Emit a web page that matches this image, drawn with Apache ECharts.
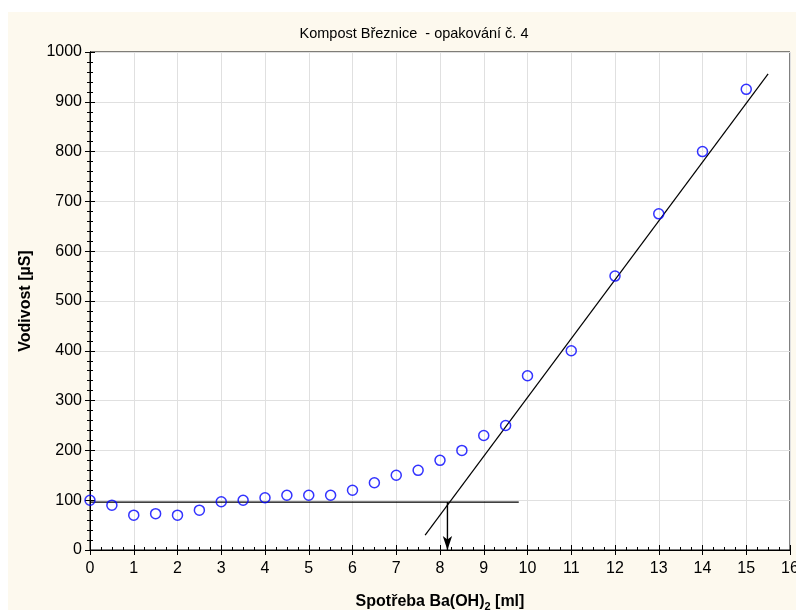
<!DOCTYPE html>
<html><head><meta charset="utf-8">
<script src="https://cdn.jsdelivr.net/npm/echarts@6/dist/echarts.min.js"></script>
<style>html,body{margin:0;padding:0;background:#fff}#c{width:796px;height:610px}</style>
</head><body><div id="c"></div>
<script>
const xVals = [0,0.5,1,1.5,2,2.5,3,3.5,4,4.5,5,5.5,6,6.5,7,7.5,8,8.5,9,9.5,10,11,12,13,14,15];
const yVals = [100,90,70,73,70,80,97,100,105,110,110,110,120,135,150,160,180,200,230,250,350,400,550,675,800,925];
const baseLine = [[0,96],[9.8,96]];
const fitLine = [[7.66,30],[15.5,956]];
const arrowLine = [[8.17,96],[8.17,0]];
const titleText = 'Kompost Březnice  - opakování č. 4';

const chart = echarts.init(document.getElementById('c'));
const font = 'Arial, "Liberation Sans", sans-serif';
const axBase = {
  axisLine:{show:true,lineStyle:{color:'#000',width:1}},
  axisTick:{show:true,inside:true,length:5,lineStyle:{color:'#000'}},
  minorTick:{show:true,length:3,lineStyle:{color:'#000'}},
  splitLine:{show:false}
};
chart.setOption({
  backgroundColor:'#fff',
  animation:false,
  graphic:[{type:'rect',shape:{x:8,y:12,width:788,height:598},style:{fill:'#fdf9ee'},z:-10}],
  title:{text:titleText,left:409,top:21,textAlign:'center',textStyle:{fontFamily:font,fontSize:14.5,fontWeight:'normal',color:'#000'}},
  grid:{left:90,top:52,right:6,bottom:60,show:true,backgroundColor:'#fff',borderColor:'#000',borderWidth:1,outerBoundsMode:'none',containLabel:false},
  xAxis:[
    Object.assign({},axBase,{type:'value',min:0,max:16,interval:1,position:'bottom',
      minorTick:{show:true,splitNumber:4,length:3,lineStyle:{color:'#000'}},
      splitLine:{show:true,lineStyle:{color:'#e0e0e0',width:1}},
      axisLabel:{fontFamily:font,fontSize:16,color:'#000',margin:11,formatter:v=>String(v)},
      name:'Spotřeba Ba(OH){sub|2} [ml]',nameLocation:'middle',nameGap:42,
      nameTextStyle:{fontFamily:font,fontSize:16,fontWeight:'bold',color:'#000',
        rich:{sub:{fontFamily:font,fontSize:11,fontWeight:'bold',color:'#000',verticalAlign:'bottom',padding:[9,0,0,0]}}}}),
    Object.assign({},axBase,{type:'value',min:0,max:16,interval:1,position:'top',
      minorTick:{show:false},axisLabel:{show:false}})
  ],
  yAxis:[
    Object.assign({},axBase,{type:'value',min:0,max:1000,interval:100,position:'left',
      minorTick:{show:true,splitNumber:5,length:3,lineStyle:{color:'#000'}},
      splitLine:{show:true,lineStyle:{color:'#e0e0e0',width:1}},
      axisLabel:{fontFamily:font,fontSize:16,color:'#000',margin:8,formatter:v=>String(v)},
      name:'Vodivost [µS]',nameLocation:'middle',nameGap:56,
      nameTextStyle:{fontFamily:font,fontSize:16,fontWeight:'bold',color:'#000'}}),
    Object.assign({},axBase,{type:'value',min:0,max:1000,interval:100,position:'right',
      minorTick:{show:true,splitNumber:5,length:3,lineStyle:{color:'#000'}},
      axisLabel:{show:false}})
  ],
  series:[
    {type:'line',data:baseLine,symbol:'none',lineStyle:{color:'#000',width:1.2},z:3},
    {type:'line',data:fitLine,symbol:'none',lineStyle:{color:'#000',width:1.2},z:3},
    {type:'line',data:arrowLine,symbol:'none',lineStyle:{color:'#000',width:1.2},z:3,
      markLine:{silent:true,symbol:['none','arrow'],symbolSize:[7,14],label:{show:false},
        lineStyle:{color:'#000',width:1.2,type:'solid'},
        data:[[{coord:arrowLine[0]},{coord:arrowLine[1]}]]}},
    {type:'scatter',data:xVals.map((x,i)=>[x,yVals[i]]),symbol:'circle',symbolSize:10,
      itemStyle:{color:'rgba(0,0,0,0)',borderColor:'#0000ff',borderWidth:1.5},z:5}
  ]
});
</script></body></html>
